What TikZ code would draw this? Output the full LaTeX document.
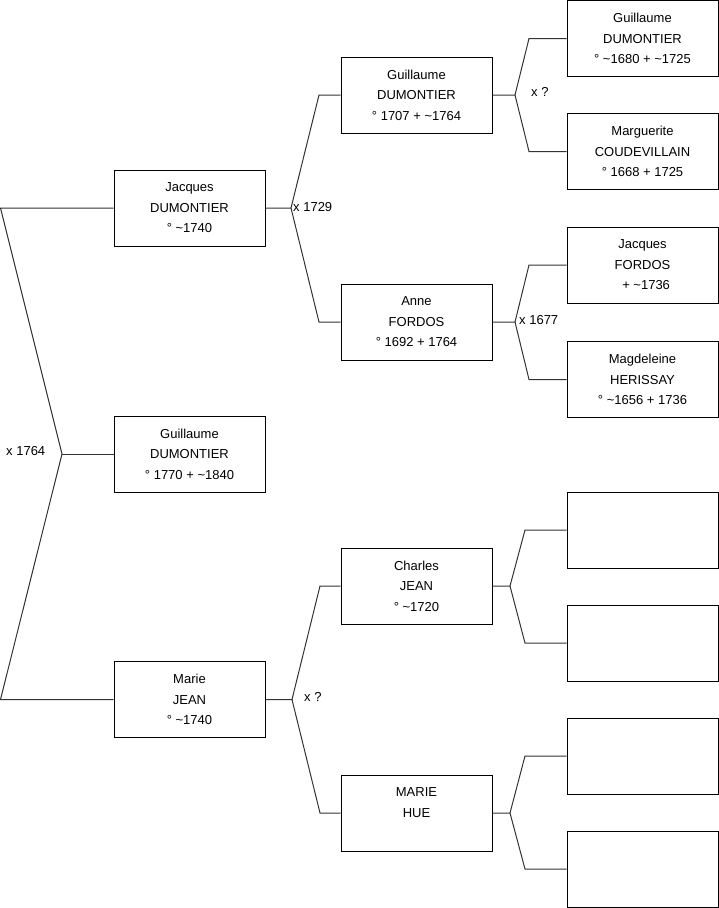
\documentclass[tikz,border=0pt]{standalone}
\usepackage{fontspec}
\setmainfont{Liberation Sans}
\newcommand{\tl}{\textasciitilde}
\begin{document}
\begin{tikzpicture}[x=1pt,y=-1pt,
 person/.style={draw=black, line width=1pt, minimum width=151pt, minimum height=76pt, inner sep=0pt, align=center, font=\fontsize{13}{20.5}\selectfont, text depth=0pt},
 link/.style={line width=1pt, draw=black!80},
 lbl/.style={font=\fontsize{13}{16}\selectfont, inner sep=0pt, anchor=west}]
\useasboundingbox (0,0) rectangle (719,908);
% generation 1
\node[person] (J) at (189.5,208) {Jacques\\DUMONTIER\\° \tl1740};
\node[person] (G) at (189.5,454) {Guillaume\\DUMONTIER\\° 1770 + \tl1840};
\node[person] (M) at (189.5,699.5) {Marie\\JEAN\\° \tl1740};
% generation 2
\node[person] (GD) at (416.5,95) {Guillaume\\DUMONTIER\\° 1707 + \tl1764};
\node[person] (AF) at (416.5,322) {Anne\\FORDOS\\° 1692 + 1764};
\node[person] (CJ) at (416.5,586) {Charles\\JEAN\\° \tl1720};
\node[person] (MH) at (416.5,813) {MARIE\\HUE\\\mbox{}};
% generation 3
\node[person] (P1) at (642.5,38.5) {Guillaume\\DUMONTIER\\° \tl1680 + \tl1725};
\node[person] (P2) at (642.5,151.5) {Marguerite\\COUDEVILLAIN\\° 1668 + 1725};
\node[person] (P3) at (642.5,265) {Jacques\\FORDOS\\\ \ + \tl1736};
\node[person] (P4) at (642.5,379.5) {Magdeleine\\HERISSAY\\° \tl1656 + 1736};
\node[person] (P5) at (642.5,530) {};
\node[person] (P6) at (642.5,643) {};
\node[person] (P7) at (642.5,756) {};
\node[person] (P8) at (642.5,869) {};
% fork points
\coordinate (r0) at (0.5,208);
\coordinate (rv) at (62,454);
\coordinate (r1) at (0.5,699.5);
\coordinate (jv) at (291,208);
\coordinate (ju) at (319,95);
\coordinate (jd) at (319,322);
\coordinate (gv) at (515,95);
\coordinate (gu) at (529,38.5);
\coordinate (gd) at (529,151.5);
\coordinate (av) at (515,322);
\coordinate (au) at (529,265);
\coordinate (ad) at (529,379.5);
\coordinate (mv) at (292,699.5);
\coordinate (mu) at (320,586);
\coordinate (md) at (320,813);
\coordinate (cv) at (510,586);
\coordinate (cu) at (525,530);
\coordinate (cd) at (525,643);
\coordinate (hv) at (510,813);
\coordinate (hu) at (525,756);
\coordinate (hd) at (525,869);
% connectors
\draw[link] (J.west) -- (r0) -- (rv) -- (r1) -- (M.west);
\draw[link] (rv) -- (G.west);
\draw[link] (J.east) -- (jv) -- (ju) -- (GD.west);
\draw[link] (jv) -- (jd) -- (AF.west);
\draw[link] (GD.east) -- (gv) -- (gu) -- (P1.west);
\draw[link] (gv) -- (gd) -- (P2.west);
\draw[link] (AF.east) -- (av) -- (au) -- (P3.west);
\draw[link] (av) -- (ad) -- (P4.west);
\draw[link] (M.east) -- (mv) -- (mu) -- (CJ.west);
\draw[link] (mv) -- (md) -- (MH.west);
\draw[link] (CJ.east) -- (cv) -- (cu) -- (P5.west);
\draw[link] (cv) -- (cd) -- (P6.west);
\draw[link] (MH.east) -- (hv) -- (hu) -- (P7.west);
\draw[link] (hv) -- (hd) -- (P8.west);
% marriage labels
\node[lbl] (l1) at (6,451) {x 1764};
\node[lbl] (l2) at (293,207) {x 1729};
\node[lbl] (l3) at (531,92) {x ?};
\node[lbl] (l4) at (519,320) {x 1677};
\node[lbl] (l5) at (304,697) {x ?};
\end{tikzpicture}
\end{document}
